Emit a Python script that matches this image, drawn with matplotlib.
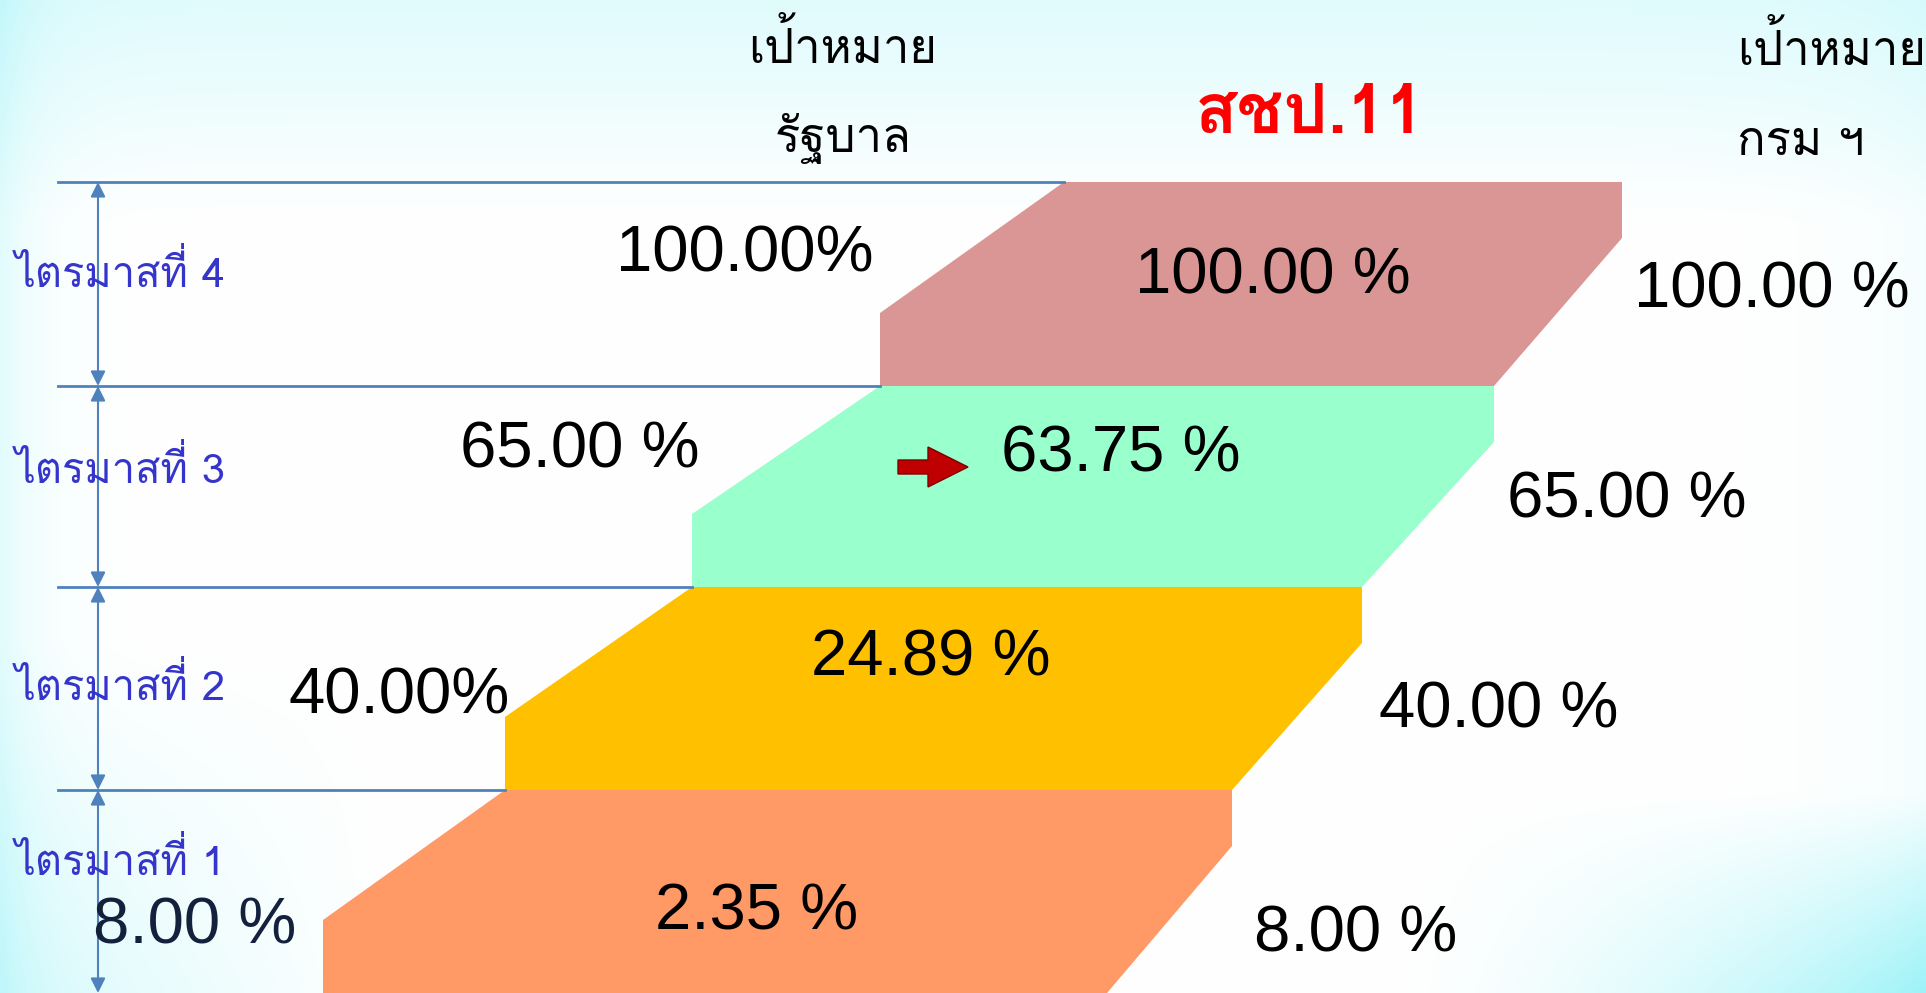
import numpy as np
import matplotlib
matplotlib.use("Agg")
import matplotlib.pyplot as plt
from matplotlib import font_manager
from matplotlib.ft2font import FT2Font
from matplotlib.patches import Polygon

# data (Q1 .. Q4)
quarters = ["ไตรมาสที่ 1", "ไตรมาสที่ 2", "ไตรมาสที่ 3", "ไตรมาสที่ 4"]
actual = [2.35, 24.89, 63.75, 100.00]
gov_target = [8.00, 40.00, 65.00, 100.00]
dept_target = [8.00, 40.00, 65.00, 100.00]
gov_sep = [" ", "", " ", ""]
colors = ["#FF9966", "#FFC000", "#99FFCC", "#D99694"]

# find a font that has Thai glyphs
thai_font = None
for f in font_manager.fontManager.ttflist:
    try:
        if 0x0E01 in FT2Font(f.fname).get_charmap():
            thai_font = f.name
            break
    except Exception:
        pass
thai_fam = [thai_font, "Liberation Sans", "DejaVu Sans"] if thai_font else ["Liberation Sans", "DejaVu Sans"]
num_fam = ["Liberation Sans", "DejaVu Sans"]

W, H = 1926, 993
fig = plt.figure(figsize=(W / 100, H / 100), dpi=100)
ax = fig.add_axes([0, 0, 1, 1])
ax.set_xlim(0, W)
ax.set_ylim(H, 0)
ax.axis("off")

# soft sky background
yy, xx = np.mgrid[0:1:200j, 0:1:386j]
w = 0.3 * np.clip(1 - yy / 0.22, 0, 1)
w += 0.28 * np.exp(-xx / 0.02)
w += 0.1 * np.exp(-(1 - xx) / 0.04)
w += 0.85 * np.clip((xx - 0.72) / 0.28, 0, 1) ** 1.5 * np.clip((yy - 0.8) / 0.2, 0, 1)
w += 0.35 * np.clip((0.2 - xx) / 0.2, 0, 1) * np.clip((yy - 0.65) / 0.35, 0, 1)
w = np.clip(w, 0, 1)
cyan = np.array([0.60, 0.95, 0.97])
bg = 1 - w[..., None] * (1 - cyan)
ax.imshow(bg, extent=(0, W, H, 0), aspect="auto", interpolation="bilinear", zorder=0)

# step layout
band_top = [790, 587, 386, 182]
band_bot = [993, 790, 587, 386]
left_x = [323, 505, 692, 880, 1064]
right_x = [1107, 1232, 1362, 1494, 1622]
notch_l, notch_r = 73, 56
line_c = "#4F81BD"

for i in range(4):
    t, b = band_top[i], band_bot[i]
    pts = [(left_x[i], b), (left_x[i], b - notch_l), (left_x[i + 1], t),
           (right_x[i + 1], t), (right_x[i + 1], t + notch_r), (right_x[i], b)]
    ax.add_patch(Polygon(pts, closed=True, facecolor=colors[i], edgecolor="none", zorder=2))
    ax.plot([58, left_x[i + 1]], [t, t], color=line_c, lw=2, zorder=3)
    ax.annotate("", xy=(98, t), xytext=(98, b),
                arrowprops=dict(arrowstyle="<|-|>", color=line_c, lw=1.5,
                                mutation_scale=22, shrinkA=0, shrinkB=0), zorder=3)

# quarter labels
q_base = [875, 700, 483, 287]
for i, q in enumerate(quarters):
    ax.text(15, q_base[i], q, fontsize=30, color="#3535CC", family=thai_fam,
            ha="left", va="baseline", zorder=4)

# numbers
gov_xy = [(195, 943), (399, 713), (580, 468), (745, 272)]
act_xy = [(757, 930), (931, 675), (1121, 472), (1273, 293)]
dept_xy = [(1356, 951), (1499, 728), (1627, 518), (1772, 307)]
for i in range(4):
    gc = "#14213D" if i == 0 else "black"
    ax.text(*gov_xy[i], f"{gov_target[i]:.2f}{gov_sep[i]}%", fontsize=47, color=gc,
            family=num_fam, ha="center", va="baseline", zorder=4)
    ax.text(*act_xy[i], f"{actual[i]:.2f} %", fontsize=47, color="black",
            family=num_fam, ha="center", va="baseline", zorder=4)
    ax.text(*dept_xy[i], f"{dept_target[i]:.2f} %", fontsize=47, color="black",
            family=num_fam, ha="center", va="baseline", zorder=4)

# red arrow beside the current value
arrow = [(898, 460), (928, 460), (928, 447), (968, 467), (928, 487), (928, 474), (898, 474)]
ax.add_patch(Polygon(arrow, closed=True, facecolor="#C00000", edgecolor="#7F0000", lw=1, zorder=4))

# headers
ax.text(843, 63, "เป้าหมาย", fontsize=34, color="black", family=thai_fam, ha="center", va="baseline")
ax.text(843, 152, "รัฐบาล", fontsize=34, color="black", family=thai_fam, ha="center", va="baseline")
ax.text(1310, 133, "สชป.11", fontsize=50, color="#FF0000", family=thai_fam, ha="center",
        va="baseline", fontweight="bold")
ax.text(1737, 65, "เป้าหมาย", fontsize=34, color="black", family=thai_fam, ha="left", va="baseline")
ax.text(1737, 155, "กรม ฯ", fontsize=34, color="black", family=thai_fam, ha="left", va="baseline")

fig.savefig("out.png", dpi=100)
